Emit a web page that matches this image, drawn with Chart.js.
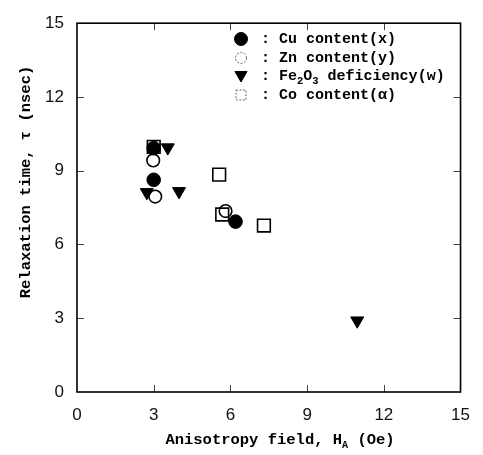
<!DOCTYPE html>
<html>
<head>
<meta charset="utf-8">
<script src="https://cdn.jsdelivr.net/npm/chart.js@4/dist/chart.umd.min.js"></script>
<style>
html,body{margin:0;padding:0;background:#fff;}
#wrap{width:483px;height:455px;}
</style>
</head>
<body>
<div id="wrap"><canvas id="c" width="483" height="455"></canvas></div>
<script>
// Data
const cuX = [3.0, 3.0, 6.2];
const cuY = [9.92, 8.63, 6.93];
const znX = [2.98, 3.06, 5.81];
const znY = [9.42, 7.95, 7.36];
const feX = [3.55, 2.73, 3.99, 10.96];
const feY = [9.94, 8.12, 8.16, 2.90];
const coX = [3.0, 5.56, 5.68, 7.31];
const coY = [9.97, 8.84, 7.22, 6.77];
const tickValues = [0, 3, 6, 9, 12, 15];
const legendLabels = ['Cu content(x)', 'Zn content(y)', 'Fe2O3 deficiency(w)', 'Co content(\u03b1)'];

const pts = (xs, ys) => xs.map((x, i) => ({x: x, y: ys[i]}));
const monoFont = '"Liberation Mono", "DejaVu Sans Mono", monospace';

const ticksInward = {
  id: 'ticksInward',
  afterDraw(chart) {
    const {ctx, chartArea: a, scales} = chart;
    ctx.save();
    ctx.strokeStyle = '#444';
    ctx.lineWidth = 1;
    const L = 7;
    tickValues.slice(1, -1).forEach(v => {
      const px = Math.round(scales.x.getPixelForValue(v)) + 0.5;
      const py = Math.round(scales.y.getPixelForValue(v)) + 0.5;
      ctx.beginPath();
      ctx.moveTo(px, a.bottom); ctx.lineTo(px, a.bottom - L);
      ctx.moveTo(px, a.top); ctx.lineTo(px, a.top + L);
      ctx.moveTo(a.left, py); ctx.lineTo(a.left + L, py);
      ctx.moveTo(a.right, py); ctx.lineTo(a.right - L, py);
      ctx.stroke();
    });
    // box
    ctx.strokeStyle = '#000';
    ctx.lineWidth = 1.6;
    ctx.strokeRect(a.left, a.top, a.right - a.left, a.bottom - a.top);
    ctx.restore();
  }
};

// draw runs of [text, isSub]
function runWidth(ctx, runs, size, subSize) {
  let w = 0;
  runs.forEach(r => {
    ctx.font = 'bold ' + (r[1] ? subSize : size) + 'px ' + monoFont;
    w += ctx.measureText(r[0]).width;
  });
  return w;
}
function drawRuns(ctx, runs, x, y, size, subSize, subDrop) {
  let cx = x;
  runs.forEach(r => {
    ctx.font = 'bold ' + (r[1] ? subSize : size) + 'px ' + monoFont;
    ctx.fillText(r[0], cx, y + (r[1] ? subDrop : 0));
    cx += ctx.measureText(r[0]).width;
  });
}

const titlesAndLegend = {
  id: 'titlesAndLegend',
  afterDraw(chart) {
    const ctx = chart.ctx;
    ctx.save();
    ctx.fillStyle = '#000';
    ctx.textBaseline = 'middle';
    ctx.textAlign = 'left';
    // x title
    const xr = [['Anisotropy field, H', false], ['A', true], [' (Oe)', false]];
    const xw = runWidth(ctx, xr, 15.5, 10);
    drawRuns(ctx, xr, 280 - xw / 2, 440, 15.5, 10, 5);
    // y title
    ctx.save();
    ctx.translate(26, 182);
    ctx.rotate(-Math.PI / 2);
    ctx.font = 'bold 15.5px ' + monoFont;
    ctx.textAlign = 'center';
    ctx.fillText('Relaxation time, \u03c4 (nsec)', 0, 0);
    ctx.restore();

    // legend
    const mx = 241, tx = 261;
    const rows = [39, 58, 76.5, 95];
    const H = Chart.helpers;
    // Cu
    ctx.fillStyle = '#000'; ctx.strokeStyle = '#000'; ctx.lineWidth = 1;
    H.drawPoint(ctx, {pointStyle: 'circle', radius: 6.5, rotation: 0, borderWidth: 1}, mx, rows[0]);
    // Zn
    ctx.fillStyle = 'rgba(0,0,0,0)'; ctx.strokeStyle = '#666'; ctx.lineWidth = 1;
    ctx.setLineDash([2, 1.5]);
    H.drawPoint(ctx, {pointStyle: 'circle', radius: 5.5, rotation: 0, borderWidth: 1}, mx, rows[1]);
    ctx.setLineDash([]);
    // Fe
    ctx.fillStyle = '#000'; ctx.strokeStyle = '#000';
    H.drawPoint(ctx, {pointStyle: 'triangle', radius: 7, rotation: 180, borderWidth: 1}, mx, rows[2] - 1.5);
    // Co
    ctx.fillStyle = 'rgba(0,0,0,0)'; ctx.strokeStyle = '#666';
    ctx.setLineDash([2, 1.5]);
    H.drawPoint(ctx, {pointStyle: 'rect', radius: 7, rotation: 0, borderWidth: 1}, mx, rows[3]);
    ctx.setLineDash([]);

    ctx.fillStyle = '#000';
    ctx.font = 'bold 15px ' + monoFont;
    ctx.fillText(': ' + legendLabels[0], tx, rows[0]);
    ctx.fillText(': ' + legendLabels[1], tx, rows[1]);
    drawRuns(ctx, [[': Fe', false], ['2', true], ['O', false], ['3', true], [' deficiency(w)', false]], tx, rows[2], 15, 10.5, 5);
    ctx.font = 'bold 15px ' + monoFont;
    ctx.fillText(': ' + legendLabels[3], tx, rows[3]);
    ctx.restore();
  }
};

const openStyle = {backgroundColor: 'rgba(0,0,0,0)', borderColor: '#000', borderWidth: 1.6};

new Chart(document.getElementById('c'), {
  type: 'scatter',
  data: {
    datasets: [
      {label: legendLabels[0], data: pts(cuX, cuY), pointStyle: 'circle', pointRadius: 6.8,
       backgroundColor: '#000', borderColor: '#000', borderWidth: 1},
      {label: legendLabels[2], data: pts(feX, feY), pointStyle: 'triangle', pointRadius: 7.5, rotation: 180,
       backgroundColor: '#000', borderColor: '#000', borderWidth: 1},
      Object.assign({label: legendLabels[1], data: pts(znX, znY), pointStyle: 'circle', pointRadius: 6.3}, openStyle),
      Object.assign({label: legendLabels[3], data: pts(coX, coY), pointStyle: 'rect', pointRadius: 9}, openStyle)
    ]
  },
  options: {
    responsive: false,
    animation: false,
    layout: {padding: {top: 13, right: 20, left: 0, bottom: 0}},
    plugins: {legend: {display: false}, tooltip: {enabled: false}},
    elements: {point: {hoverRadius: 7}},
    scales: {
      x: {
        type: 'linear', min: 0, max: 15,
        afterFit: s => { s.height = 63; },
        afterBuildTicks: s => { s.ticks = tickValues.map(v => ({value: v})); },
        grid: {display: false, drawTicks: false},
        border: {display: false},
        ticks: {padding: 13, color: '#111', font: {family: '"Liberation Sans", Arial, sans-serif', size: 17}, maxRotation: 0}
      },
      y: {
        type: 'linear', min: 0, max: 15,
        afterFit: s => { s.width = 77; },
        afterBuildTicks: s => { s.ticks = tickValues.map(v => ({value: v})); },
        grid: {display: false, drawTicks: false},
        border: {display: false},
        ticks: {padding: 13, color: '#111', font: {family: '"Liberation Sans", Arial, sans-serif', size: 17}}
      }
    }
  },
  plugins: [ticksInward, titlesAndLegend]
});
</script>
</body>
</html>
